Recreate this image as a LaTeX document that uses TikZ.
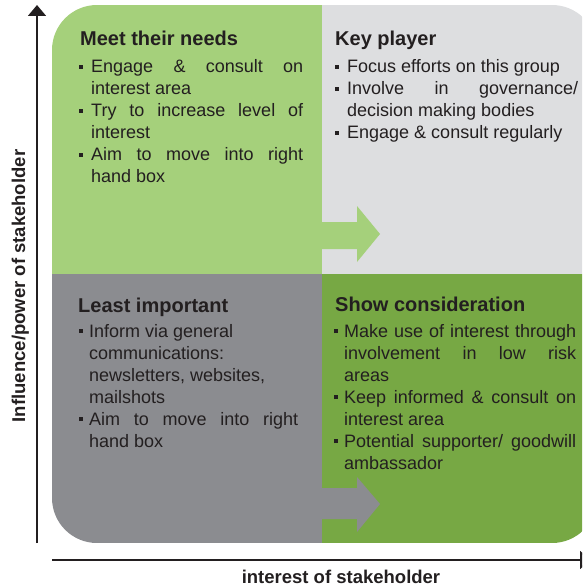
\documentclass[tikz,border=0pt]{standalone}
\usepackage{fontspec}
\setmainfont{Liberation Sans}
\usetikzlibrary{arrows.meta}

\definecolor{leafgreen}{HTML}{A5D07B}
\definecolor{mistgray}{HTML}{DDDEE0}
\definecolor{slategray}{HTML}{8B8C90}
\definecolor{mossgreen}{HTML}{77A844}
\definecolor{inkdark}{HTML}{231F20}

% square bullet followed by a hanging paragraph
\newcommand{\qitem}[1]{\par\hangindent=#1\hangafter=1\noindent\makebox[#1][l]{\rule[4pt]{3.6pt}{4.2pt}}}
% body text block: width, content
\newcommand{\qbody}[2]{\parbox[t]{#1}{\fontsize{18}{22}\selectfont #2}}

\tikzset{
  x=1pt, y=-1pt,
  qtitle/.style={anchor=base west, inner sep=0pt, text=inkdark,
    font=\fontsize{20}{24}\selectfont\bfseries},
  qtext/.style={anchor=base west, inner sep=0pt, text=inkdark},
  axislabel/.style={inner sep=0pt, text=inkdark,
    font=\fontsize{18.5}{22}\selectfont\bfseries},
  axisline/.style={draw=inkdark, line width=1.5pt,
    -{Triangle[width=18pt,length=11pt]}}
}

\begin{document}
\begin{tikzpicture}
\useasboundingbox (0,0) rectangle (582,588);
\clip (0,0) rectangle (582,588);

% the four quadrants inside one rounded block
\begin{scope}
  \clip[rounded corners=45pt] (52,5) rectangle (597,543);
  \fill[leafgreen] (52,5) rectangle (322,274);
  \fill[mistgray]  (322,5) rectangle (597,274);
  \fill[slategray] (52,274) rectangle (322,543);
  \fill[mossgreen] (322,274) rectangle (597,543);
  % arrows pointing into the right-hand boxes
  \fill[leafgreen] (322,222) -- (357,222) -- (357,206) -- (380,234)
    -- (357,262) -- (357,249) -- (322,249) -- cycle;
  \fill[slategray] (322,488) -- (357,488) -- (357,477) -- (380,504)
    -- (357,532) -- (357,519) -- (322,519) -- cycle;
\end{scope}

% axes
\coordinate (yStart) at (37,543);
\coordinate (yEnd) at (37,5);
\coordinate (xStart) at (52,560);
\coordinate (xEnd) at (591,560);
\draw[axisline] (yStart) -- (yEnd);
\draw[axisline] (xStart) -- (xEnd);

\node[axislabel, anchor=base, rotate=90] (yLabel) at (25,286) {Influence/power of stakeholder};
\node[axislabel, anchor=base] (xLabel) at (341,583) {interest of stakeholder};

% top left
\node[qtitle] (needsTitle) at (80,46) {Meet their needs};
\node[qtext] (needsBody) at (79,73) {\qbody{224pt}{%
  \qitem{12pt}Engage \& consult on\linebreak interest area
  \qitem{12pt}Try to increase level of\linebreak interest
  \qitem{12pt}Aim to move into right\linebreak hand box}};

% top right
\node[qtitle] (keyTitle) at (335,46) {Key player};
\node[qtext] (keyBody) at (335,73) {\qbody{243pt}{%
  \qitem{12pt}Focus efforts on this group
  \qitem{12pt}Involve in governance/\linebreak decision making bodies
  \qitem{12pt}Engage \& consult regularly}};

% bottom left
\node[qtitle] (leastTitle) at (78,312) {Least important};
\node[qtext] (leastBody) at (79,337) {\qbody{219pt}{%
  \qitem{10pt}Inform via general\\ communications:\\ newsletters, websites,\\ mailshots
  \qitem{10pt}Aim to move into right\linebreak hand box}};

% bottom right
\node[qtitle] (showTitle) at (335,311) {Show consideration};
\node[qtext] (showBody) at (334,337) {\qbody{242pt}{%
  \qitem{10pt}Make use of interest through\linebreak involvement in low risk\linebreak areas
  \qitem{10pt}Keep informed \& consult on\linebreak interest area
  \qitem{10pt}Potential supporter/ goodwill\linebreak ambassador}};
\end{tikzpicture}
\end{document}
